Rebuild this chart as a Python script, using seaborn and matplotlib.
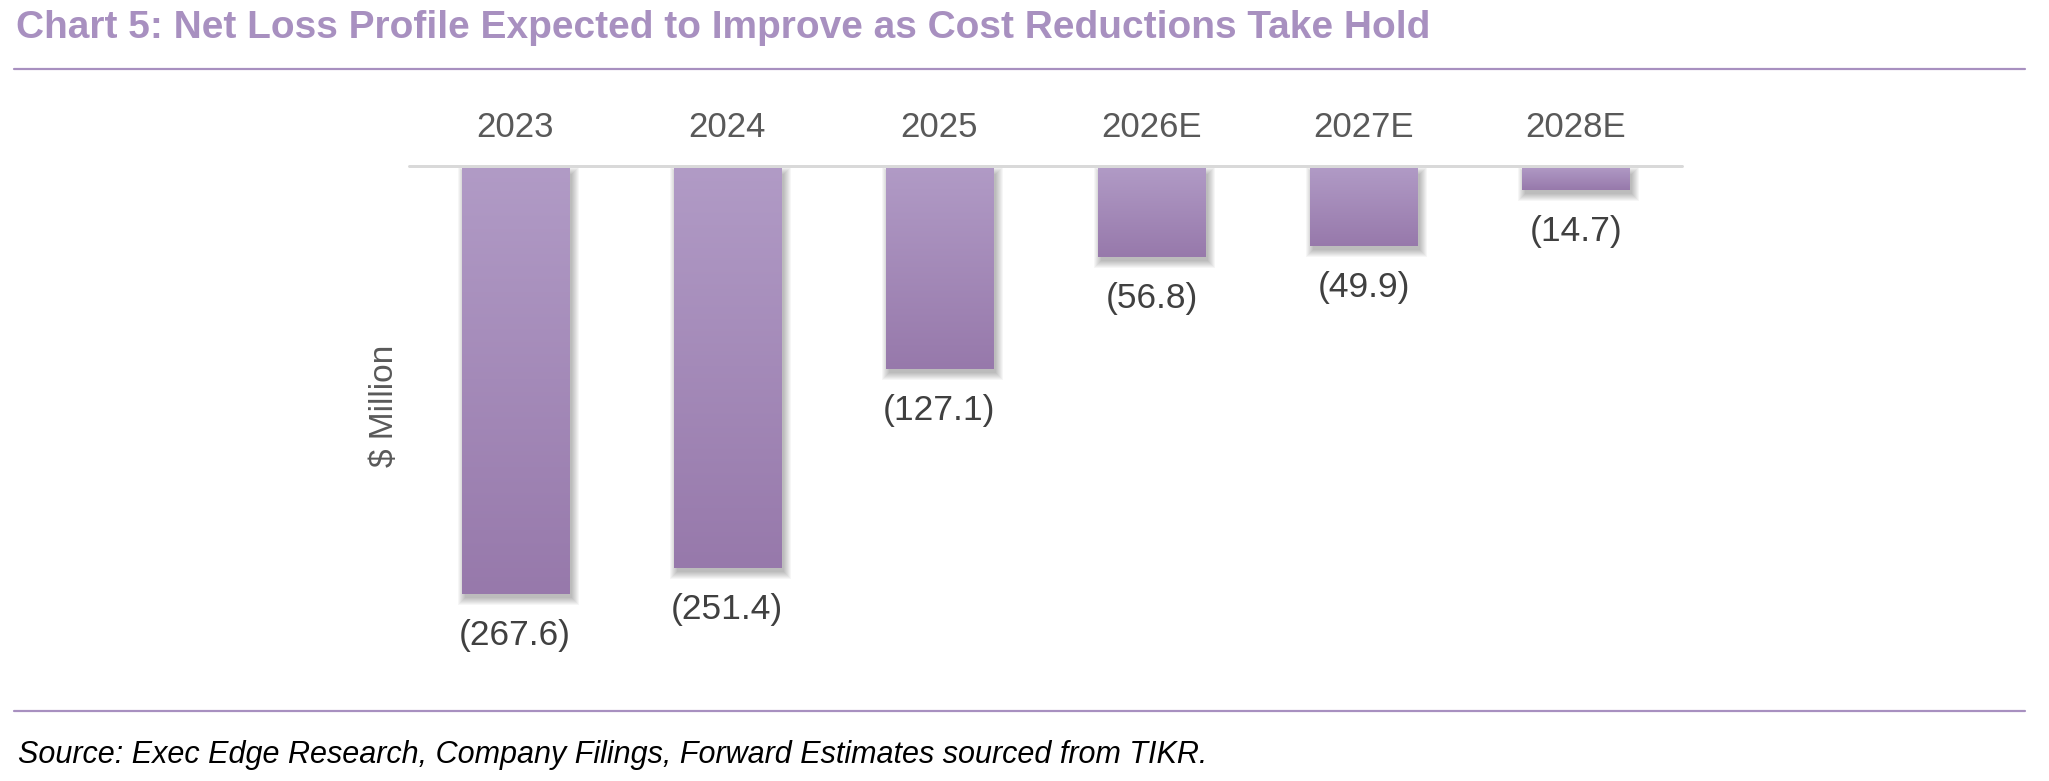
import numpy as np
import pandas as pd
import matplotlib
matplotlib.use("Agg")
import matplotlib.pyplot as plt
from matplotlib.patches import Rectangle
from matplotlib.lines import Line2D
from matplotlib.colors import LinearSegmentedColormap
import seaborn as sns

# ---- data ----
categories = ["2023", "2024", "2025", "2026E", "2027E", "2028E"]
net_loss = [-267.6, -251.4, -127.1, -56.8, -49.9, -14.7]
value_labels = ["(267.6)", "(251.4)", "(127.1)", "(56.8)", "(49.9)", "(14.7)"]

title = "Chart 5: Net Loss Profile Expected to Improve as Cost Reductions Take Hold"
source = "Source: Exec Edge Research, Company Filings, Forward Estimates sourced from TIKR."
ylabel = "\\$ Million"

# ---- style ----
sns.set_theme(style="white")
plt.rcParams["font.family"] = ["Liberation Sans", "DejaVu Sans"]

W, H, DPI = 2049, 781, 100
PURPLE = "#A890C0"
BAR_TOP = "#B19BC6"
BAR_BOT = "#9779AB"
GRAY_TXT = "#595959"
DARK_TXT = "#404040"

fig = plt.figure(figsize=(W / DPI, H / DPI), dpi=DPI)
fig.patch.set_facecolor("white")

ax_left, ax_right = 409, 1682
ax_top, ax_bot = 166, 646
ax = fig.add_axes([ax_left / W, 1 - ax_bot / H, (ax_right - ax_left) / W, (ax_bot - ax_top) / H])

df = pd.DataFrame({"year": categories, "loss": net_loss})
sns.barplot(data=df, x="year", y="loss", color=BAR_BOT, width=0.505, ax=ax,
            saturation=1, zorder=2, linewidth=0)

ax.set_xlim(-0.5, len(categories) - 0.5)
ax.set_ylim(-300, 0)

px_x = len(categories) / (ax_right - ax_left)
px_y = 300 / (ax_bot - ax_top)

cmap = LinearSegmentedColormap.from_list("g", [BAR_TOP, BAR_BOT])
grad = np.linspace(0, 1, 256).reshape(-1, 1)
for p in list(ax.patches):
    x0, w = p.get_x(), p.get_width()
    y0, h = p.get_y(), p.get_height()
    ylo, yhi = min(y0, y0 + h), max(y0, y0 + h)
    for k in range(8):
        e = 7 - k
        sh = Rectangle((x0 - e * px_x + 3 * px_x, ylo - e * px_y - 4 * px_y),
                       w + 2 * e * px_x, (yhi - ylo) + 2 * e * px_y - 4 * px_y,
                       facecolor="black", alpha=0.035, linewidth=0, zorder=1)
        ax.add_patch(sh)
    im = ax.imshow(grad, extent=[x0, x0 + w, ylo, yhi], cmap=cmap, aspect="auto",
                   origin="upper", zorder=2.1, interpolation="bicubic")
    im.set_clip_path(p)

ax.set_xlim(-0.5, len(categories) - 0.5)
ax.set_ylim(-300, 0)
ax.set_aspect("auto")

ax.axhline(0, color="#D9D9D9", linewidth=3.0 * 72 / DPI, zorder=3, clip_on=False)

for i, (v, lab) in enumerate(zip(net_loss, value_labels)):
    ax.annotate(lab, xy=(i, v), xytext=(0, -51 * 72 / DPI), textcoords="offset points",
                ha="center", va="baseline", fontsize=25.5, color=DARK_TXT)

ax.xaxis.tick_top()
ax.set_xticks(range(len(categories)))
ax.set_xticklabels(categories, fontsize=25, color=GRAY_TXT)
ax.tick_params(axis="x", length=0, pad=16)
ax.set_xlabel("")
ax.set_yticks([])
ax.set_ylabel(ylabel, fontsize=24, color=GRAY_TXT)
ax.yaxis.set_label_coords((400 - ax_left) / (ax_right - ax_left), 0.5)
for s in ax.spines.values():
    s.set_visible(False)
ax.set_facecolor("none")

fig.text(16 / W, 1 - 38 / H, title, fontsize=28, fontweight="bold", color=PURPLE,
         ha="left", va="baseline")
for yy in (69, 711):
    fig.add_artist(Line2D([14 / W, 2025 / W], [1 - yy / H, 1 - yy / H], color=PURPLE,
                          linewidth=2.2 * 72 / DPI))
fig.text(18 / W, 1 - 763 / H, source, fontsize=22, fontstyle="italic", color="black",
         ha="left", va="baseline")

fig.savefig("out.png", dpi=DPI, facecolor="white")
